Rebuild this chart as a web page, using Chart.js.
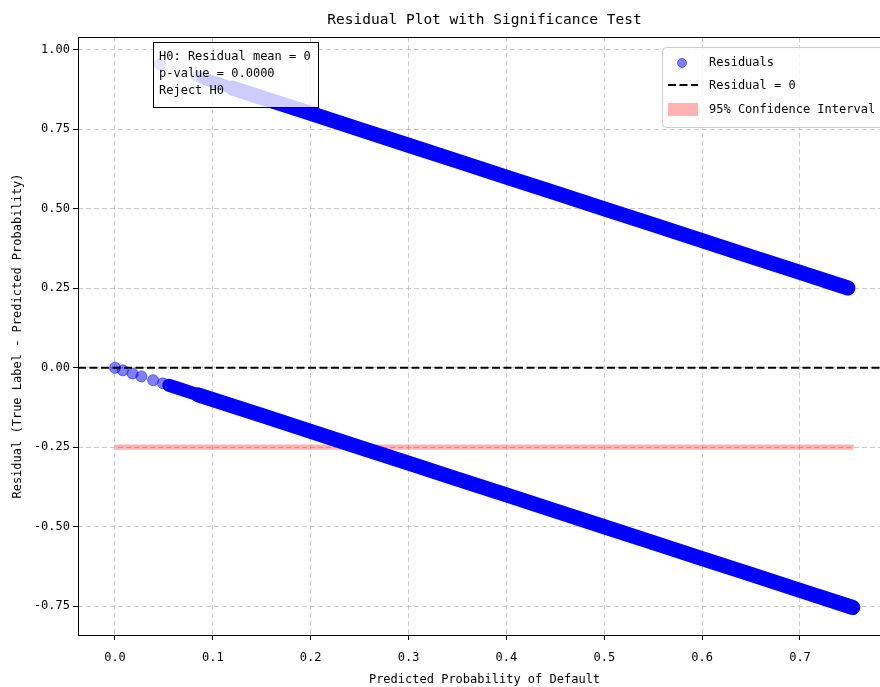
<!DOCTYPE html>
<html lang="en">
<head>
<meta charset="UTF-8">
<title>Residual Plot with Significance Test</title>
<script src="https://cdn.jsdelivr.net/npm/chart.js"></script>
<style>
    html, body { margin: 0; padding: 0; background: #fff; overflow: hidden; }
    #wrap { width: 900px; height: 687px; }
</style>
</head>
<body>
<div id="wrap"><canvas id="residChart" width="900" height="687"></canvas></div>
<script>
    // ---- data ----
    // true label 0: residual = 0 - p
    const lowerSparseProb  = [0.000, 0.008, 0.018, 0.027, 0.039, 0.049];
    const lowerSparseResid = [0.000, -0.008, -0.018, -0.027, -0.039, -0.049];
    const lowerThinProb    = [0.055, 0.070, 0.085];
    const lowerThinResid   = [-0.055, -0.070, -0.085];
    const lowerDenseProb   = [0.085, 0.100, 0.150, 0.200, 0.250, 0.300, 0.350, 0.400, 0.450, 0.500, 0.550, 0.600, 0.650, 0.700, 0.754];
    const lowerDenseResid  = [-0.085, -0.100, -0.150, -0.200, -0.250, -0.300, -0.350, -0.400, -0.450, -0.500, -0.550, -0.600, -0.650, -0.700, -0.754];
    // true label 1: residual = 1 - p
    const upperSparseProb  = [0.046, 0.084];
    const upperSparseResid = [0.954, 0.916];
    const upperThinProb    = [0.090, 0.105, 0.120];
    const upperThinResid   = [0.910, 0.895, 0.880];
    const upperDenseProb   = [0.120, 0.150, 0.200, 0.250, 0.300, 0.350, 0.400, 0.450, 0.500, 0.550, 0.600, 0.650, 0.700, 0.749];
    const upperDenseResid  = [0.880, 0.850, 0.800, 0.750, 0.700, 0.650, 0.600, 0.550, 0.500, 0.450, 0.400, 0.350, 0.300, 0.251];

    // 95% CI band
    const ciX    = [0.000, 0.755];
    const ciLow  = [-0.258, -0.258];
    const ciHigh = [-0.241, -0.241];

    const xMin = -0.0378, xMax = 0.793;
    const yMin = -0.8405, yMax = 1.0405;
    const zeroLineX = [xMin, xMax];
    const zeroLineY = [0, 0];

    const xTicks = [0.0, 0.1, 0.2, 0.3, 0.4, 0.5, 0.6, 0.7];
    const yTicks = [-0.75, -0.50, -0.25, 0.00, 0.25, 0.50, 0.75, 1.00];

    const titleText = 'Residual Plot with Significance Test';
    const xTitle = 'Predicted Probability of Default';
    const yTitle = 'Residual (True Label - Predicted Probability)';
    const testLines = ['H0: Residual mean = 0', 'p-value = 0.0000', 'Reject H0'];
    const legendLabels = ['Residuals', 'Residual = 0', '95% Confidence Interval'];

    const FONT = '"DejaVu Sans Mono", monospace';
    const PT_FILL = 'rgba(0,0,255,0.5)';
    const CI_FILL = 'rgba(255,0,0,0.3)';

    function pairs(xs, ys) {
        return xs.map((x, i) => ({ x: x, y: ys[i] }));
    }

    // title, axis titles, spines, text box and legend
    const residualDecor = {
        id: 'residualDecor',
        afterDatasetsDraw(chart) {
            const { ctx, chartArea: a } = chart;
            ctx.save();
            ctx.strokeStyle = '#000';
            ctx.lineWidth = 1;
            ctx.strokeRect(a.left + 0.5, a.top + 0.5, a.right - a.left, a.bottom - a.top);
            ctx.restore();
        },
        afterDraw(chart) {
            const { ctx, chartArea: a } = chart;
            const cx = (a.left + a.right) / 2;

            ctx.save();
            ctx.fillStyle = '#000';
            ctx.textAlign = 'center';
            ctx.textBaseline = 'middle';
            ctx.font = '14.5px ' + FONT;
            ctx.fillText(titleText, cx, 20);
            ctx.font = '12px ' + FONT;
            ctx.fillText(xTitle, cx, 680);
            ctx.translate(18, (a.top + a.bottom) / 2);
            ctx.rotate(-Math.PI / 2);
            ctx.fillText(yTitle, 0, 0);
            ctx.restore();

            // significance test box
            ctx.save();
            ctx.fillStyle = 'rgba(255,255,255,0.8)';
            ctx.fillRect(153, 42, 165, 65);
            ctx.strokeStyle = '#000';
            ctx.lineWidth = 1;
            ctx.strokeRect(153.5, 42.5, 165, 65);
            ctx.fillStyle = '#000';
            ctx.font = '12px ' + FONT;
            ctx.textAlign = 'left';
            ctx.textBaseline = 'middle';
            testLines.forEach((t, i) => ctx.fillText(t, 159, 57 + i * 17));
            ctx.restore();

            // legend
            ctx.save();
            ctx.beginPath();
            ctx.roundRect(662.5, 47.5, 240, 80, 4);
            ctx.fillStyle = 'rgba(255,255,255,0.8)';
            ctx.fill();
            ctx.strokeStyle = '#cccccc';
            ctx.lineWidth = 1;
            ctx.stroke();

            ctx.beginPath();
            ctx.arc(682, 63, 4.5, 0, Math.PI * 2);
            ctx.fillStyle = PT_FILL;
            ctx.fill();
            ctx.strokeStyle = PT_FILL;
            ctx.stroke();

            ctx.beginPath();
            ctx.setLineDash([8, 3.5]);
            ctx.moveTo(668, 85);
            ctx.lineTo(698, 85);
            ctx.strokeStyle = '#000';
            ctx.lineWidth = 2;
            ctx.stroke();
            ctx.setLineDash([]);

            ctx.fillStyle = CI_FILL;
            ctx.fillRect(668, 103, 30, 13);

            ctx.fillStyle = '#000';
            ctx.font = '12px ' + FONT;
            ctx.textAlign = 'left';
            ctx.textBaseline = 'middle';
            ctx.fillText(legendLabels[0], 709, 63);
            ctx.fillText(legendLabels[1], 709, 86);
            ctx.fillText(legendLabels[2], 709, 110);
            ctx.restore();
        }
    };

    const pointStyle = {
        backgroundColor: PT_FILL,
        pointBorderColor: PT_FILL,
        pointBorderWidth: 1,
        pointRadius: 5.5,
        order: 1
    };
    function band(width) {
        return {
            showLine: true,
            borderColor: 'rgb(0,0,255)',
            borderWidth: width,
            borderCapStyle: 'round',
            borderJoinStyle: 'round'
        };
    }

    const ctx = document.getElementById('residChart').getContext('2d');
    new Chart(ctx, {
        type: 'scatter',
        data: {
            datasets: [
                {
                    type: 'line', label: legendLabels[1],
                    data: pairs(zeroLineX, zeroLineY),
                    borderColor: '#000', borderWidth: 2, borderDash: [8, 3.5],
                    pointRadius: 0, fill: false, order: 0
                },
                Object.assign({ label: legendLabels[0], data: pairs(lowerSparseProb, lowerSparseResid) }, pointStyle),
                Object.assign({ label: legendLabels[0], data: pairs(lowerThinProb, lowerThinResid) }, pointStyle, band(13)),
                Object.assign({ label: legendLabels[0], data: pairs(lowerDenseProb, lowerDenseResid) }, pointStyle, band(15)),
                Object.assign({ label: legendLabels[0], data: pairs(upperSparseProb, upperSparseResid) }, pointStyle),
                Object.assign({ label: legendLabels[0], data: pairs(upperThinProb, upperThinResid) }, pointStyle, band(12)),
                Object.assign({ label: legendLabels[0], data: pairs(upperDenseProb, upperDenseResid) }, pointStyle, band(15)),
                {
                    type: 'line', label: 'ci-low',
                    data: pairs(ciX, ciLow),
                    borderColor: 'transparent', borderWidth: 1,
                    pointRadius: 0, fill: false, order: 2
                },
                {
                    type: 'line', label: legendLabels[2],
                    data: pairs(ciX, ciHigh),
                    borderColor: 'transparent', borderWidth: 1,
                    backgroundColor: CI_FILL,
                    pointRadius: 0, fill: '-1', order: 2
                }
            ]
        },
        options: {
            responsive: false,
            animation: false,
            devicePixelRatio: 1,
            layout: { padding: { top: 37, right: 9, bottom: 0, left: 0 } },
            plugins: {
                legend: { display: false },
                title: { display: false },
                tooltip: { enabled: false }
            },
            scales: {
                x: {
                    type: 'linear',
                    min: xMin, max: xMax,
                    afterBuildTicks: s => { s.ticks = xTicks.map(v => ({ value: v })); },
                    afterFit: s => { s.height = 52; },
                    ticks: {
                        callback: v => v.toFixed(1),
                        font: { family: FONT, size: 12 },
                        color: '#000', padding: 11, maxRotation: 0, autoSkip: false
                    },
                    grid: { color: 'rgba(185,185,185,0.75)', lineWidth: 1, tickColor: '#000', tickLength: 5, tickWidth: 1 },
                    border: { display: false, dash: [5, 3] }
                },
                y: {
                    type: 'linear',
                    min: yMin, max: yMax,
                    afterBuildTicks: s => { s.ticks = yTicks.map(v => ({ value: v })); },
                    afterFit: s => { s.width = 78; },
                    ticks: {
                        callback: v => v.toFixed(2),
                        font: { family: FONT, size: 12 },
                        color: '#000', padding: 3, autoSkip: false
                    },
                    grid: { color: 'rgba(185,185,185,0.75)', lineWidth: 1, tickColor: '#000', tickLength: 5, tickWidth: 1 },
                    border: { display: false, dash: [5, 3] }
                }
            }
        },
        plugins: [residualDecor]
    });
</script>
</body>
</html>
